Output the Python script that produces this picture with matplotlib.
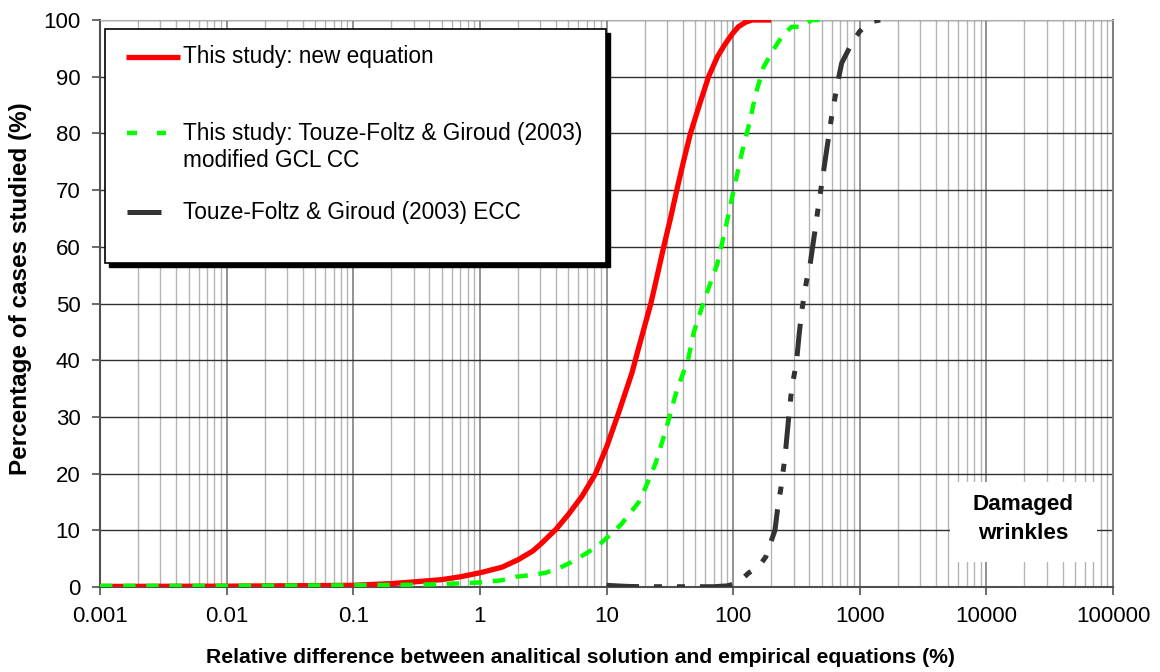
import matplotlib
matplotlib.use("Agg")
import matplotlib.pyplot as plt
from matplotlib.patches import Rectangle
from matplotlib.lines import Line2D
from matplotlib.ticker import LogLocator, FixedLocator, NullFormatter
import numpy as np

plt.rcParams['font.family'] = ['Liberation Sans', 'DejaVu Sans']

# ---- data ----
red_x = [0.001, 0.01, 0.05, 0.1, 0.2, 0.3, 0.5, 0.7, 1, 1.5, 2, 2.6, 3, 4, 5, 6.4, 8.2, 10.1,
         12.5, 15.9, 18, 22.4, 25.5, 28.3, 32, 35.9, 40.5, 46, 55, 64, 75, 85, 98, 110, 125, 141,
         170, 200]
red_y = [0.1, 0.15, 0.25, 0.3, 0.6, 0.9, 1.3, 1.8, 2.5, 3.5, 4.8, 6.3, 7.5, 10.2, 12.8, 16.0, 20.0,
         24.9, 30.8, 37.8, 42.3, 50, 55.5, 60, 65, 70, 75, 80, 85.5, 90, 93.5, 95.5, 97.5, 98.8, 99.6,
         100, 100, 100]

green_x = [0.001, 0.01, 0.1, 0.3, 0.5, 1, 1.5, 1.92, 2.5, 3.3, 4.2, 5.3, 7, 8.7, 10.8, 13, 15, 18,
           20.4, 24.5, 29.4, 35.9, 44, 49, 60, 75, 87.5, 101, 117, 135, 151, 174, 214, 250, 290,
           352, 417, 490]
green_y = [0.2, 0.2, 0.3, 0.4, 0.5, 0.8, 1.2, 1.8, 2.1, 2.5, 3.3, 4.4, 6, 7.4, 9.3, 11, 12.7, 15,
           17.6, 21.9, 27.7, 34.7, 40, 45, 51, 57, 63.5, 70, 76.5, 82, 87, 91.7, 95.2, 97.5, 98.8,
           98.8, 100, 100]

gray_x = [10, 12, 15, 20, 30, 50, 70, 90, 100, 115, 133, 158, 181, 192, 214, 224, 239, 257, 275,
          290, 316, 333, 350, 380, 408, 440, 470, 500, 560, 600, 670, 720, 870, 1000, 1110, 1300, 1450]
gray_y = [0.3, 0.2, 0.1, 0.05, 0.05, 0.05, 0.05, 0.2, 0.5, 1.2, 2.5, 3.5, 5.3, 7, 10, 13.6, 17.6,
          23, 30, 35, 39.5, 44.8, 49, 54, 57.3, 62.4, 67, 71, 78.5, 83, 89, 92.4, 96, 98, 99, 99.8, 100]

labels = ["This study: new equation",
          "This study: Touze-Foltz & Giroud (2003)\nmodified GCL CC",
          "Touze-Foltz & Giroud (2003) ECC"]
x_ticks = [0.001, 0.01, 0.1, 1, 10, 100, 1000, 10000, 100000]
x_ticklabels = ["0.001", "0.01", "0.1", "1", "10", "100", "1000", "10000", "100000"]
y_ticks = [0, 10, 20, 30, 40, 50, 60, 70, 80, 90, 100]
xlabel = "Relative difference between analitical solution and empirical equations (%)"
ylabel = "Percentage of cases studied (%)"
note = "Damaged\nwrinkles"

W, H = 1160, 672
fig = plt.figure(figsize=(W / 100, H / 100), dpi=100)
L, R, T, B = 100, 1113, 20, 587
ax = fig.add_axes([L / W, 1 - B / H, (R - L) / W, (B - T) / H])

def fp(x, y):
    return (x / W, 1 - y / H)

ax.set_xscale('log')
ax.set_xlim(0.001, 100000)
ax.set_ylim(0, 100)

# grid
ax.xaxis.set_major_locator(FixedLocator(x_ticks))
ax.xaxis.set_minor_locator(LogLocator(base=10, subs=np.arange(2, 10), numticks=100))
ax.xaxis.set_minor_formatter(NullFormatter())
ax.set_xticklabels(x_ticklabels)
ax.set_yticks(y_ticks)
ax.grid(True, which='minor', axis='x', color='#b4b4b4', lw=1.0)
ax.grid(True, which='major', axis='x', color='#808080', lw=1.2)
ax.grid(True, which='major', axis='y', color='#303030', lw=1.0)
ax.set_axisbelow(True)
ax.tick_params(axis='x', which='minor', length=0)
ax.tick_params(axis='both', which='major', direction='out', length=6, width=1.2,
               color='#505050', labelsize=16, pad=8)
for s in ['left', 'bottom']:
    ax.spines[s].set_color('#505050')
    ax.spines[s].set_linewidth(1.5)
ax.spines['top'].set_color('#b0b0b0')
ax.spines['right'].set_color('#808080')
ax.spines['right'].set_linewidth(1.5)

# curves
ax.plot(red_x, red_y, color='#ff0000', lw=3.8, solid_capstyle='butt', zorder=3)
ax.plot(green_x, green_y, color='#00ff00', lw=3.2, dashes=(2.8, 2.4),
        dash_capstyle='butt', zorder=4)
ax.plot(gray_x, gray_y, color='#333333', lw=3.6, dashes=(6.5, 3, 1.6, 3, 1.6, 3),
        dash_capstyle='butt', zorder=4)

ax.set_xlabel(xlabel, fontsize=15.2, fontweight='bold')
ax.xaxis.set_label_coords(0.474, -0.108, transform=ax.transAxes)
ax.set_ylabel(ylabel, fontsize=17.5, fontweight='bold')
ax.yaxis.set_label_coords(-0.067, 0.527, transform=ax.transAxes)

# damaged wrinkles box
ax.add_patch(Rectangle((0.839, 0.044), 0.145, 0.141, transform=ax.transAxes,
                       facecolor='white', edgecolor='none', zorder=2))
ax.text(0.9115, 0.12, note, transform=ax.transAxes, ha='center', va='center',
        fontsize=16.2, fontweight='bold', linespacing=1.45, zorder=5)

# legend box (manual)
lx0, ly0, lx1, ly1 = 105, 29, 606, 263
x0, y1f = fp(lx0, ly0)
x1, y0f = fp(lx1, ly1)
sh = 3.5
sx, sy = sh / W, sh / H
fig.add_artist(Rectangle((x0 + sx, y0f - sy), x1 - x0, y1f - y0f, transform=fig.transFigure,
                         facecolor='black', edgecolor='black', lw=1, zorder=5))
fig.add_artist(Rectangle((x0, y0f), x1 - x0, y1f - y0f, transform=fig.transFigure,
                         facecolor='white', edgecolor='black', lw=1.2, zorder=6))

def leg_line(xa, xb, y, **kw):
    (a, yy), (b, _) = fp(xa, y), fp(xb, y)
    fig.add_artist(Line2D([a, b], [yy, yy], transform=fig.transFigure, zorder=7, **kw))

leg_line(126, 180, 57, color='#ff0000', lw=3.8, solid_capstyle='butt')
leg_line(127, 166, 133, color='#00ff00', lw=3.2, dashes=(2.25, 4.5), dash_capstyle='butt')
leg_line(127, 161, 212, color='#333333', lw=3.6, solid_capstyle='butt')

for (ty, txt) in [(57, labels[0]), (147, labels[1]), (212, labels[2])]:
    xx, yy = fp(183, ty)
    fig.text(xx, yy, txt, ha='left', va='center', fontsize=16.3, linespacing=1.25, zorder=8)

fig.savefig("out.png", dpi=100)
